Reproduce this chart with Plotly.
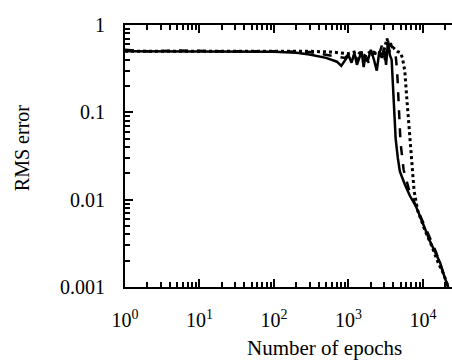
import plotly.graph_objects as go

# Solid curve
solid_x = [1, 2, 5, 10, 20, 50, 100, 200, 300, 500, 700, 800, 900, 1000, 1100, 1200, 1300,
           1400, 1500, 1600, 1700, 1800, 2000, 2200, 2400, 2600, 2800, 3000, 3200, 3400, 3600,
           3800, 3900, 4000, 4150, 4300, 4600, 4900, 5700, 6700, 8000, 9100, 10500, 12300,
           14500, 17000, 19500, 21800]
solid_y = [0.5, 0.5, 0.5, 0.5, 0.5, 0.5, 0.495, 0.48, 0.46, 0.42, 0.38, 0.34, 0.40, 0.45, 0.37,
           0.48, 0.35, 0.42, 0.50, 0.33, 0.45, 0.38, 0.52, 0.40, 0.30, 0.50, 0.42, 0.55, 0.35,
           0.66, 0.45, 0.40, 0.25, 0.14, 0.08, 0.05, 0.03, 0.021, 0.015, 0.011, 0.0085, 0.0066,
           0.0048, 0.0034, 0.0025, 0.0019, 0.0013, 0.001]

# Dashed curve
dashed_x = [1, 2, 5, 10, 20, 50, 100, 300, 600, 900, 1100, 1300, 1600, 1900, 2200, 2500, 2800,
            3100, 3400, 3700, 4000, 4300, 4500, 4700, 5000, 5500, 6500, 8000, 10000, 12500,
            15000, 18000, 21800]
dashed_y = [0.52, 0.5, 0.51, 0.5, 0.5, 0.5, 0.5, 0.49, 0.45, 0.42, 0.50, 0.40, 0.48, 0.36,
            0.50, 0.42, 0.58, 0.40, 0.50, 0.62, 0.50, 0.45, 0.30, 0.12, 0.045, 0.022, 0.013,
            0.0085, 0.0056, 0.0036, 0.0025, 0.0016, 0.001]

# Dotted curve
dotted_x = [1, 2, 5, 10, 20, 50, 100, 300, 600, 1000, 1300, 1600, 2000, 2500, 3000, 3300, 3500,
            4000, 4500, 5000, 5300, 5700, 6100, 6700, 7600, 8500, 10700, 13000, 16000, 19000,
            21800]
dotted_y = [0.5, 0.5, 0.5, 0.5, 0.5, 0.5, 0.5, 0.5, 0.49, 0.47, 0.50, 0.44, 0.50, 0.46, 0.52,
            0.70, 0.50, 0.55, 0.50, 0.48, 0.42, 0.30, 0.137, 0.048, 0.0127, 0.0075, 0.0044,
            0.003, 0.0019, 0.0014, 0.001]

x_tick_vals = [1, 10, 100, 1000, 10000]
x_tick_text = ["10<sup>0</sup>", "10<sup>1</sup>", "10<sup>2</sup>", "10<sup>3</sup>", "10<sup>4</sup>"]
y_tick_vals = [0.001, 0.01, 0.1, 1]
y_tick_text = ["0.001", "0.01", "0.1", "1"]

x_minor = [m * 10 ** d for d in range(0, 5) for m in range(2, 10)]
y_minor = [m * 10 ** d for d in range(-3, 0) for m in range(2, 10)]

FONT = "Liberation Serif"
X_RANGE = [0, 4.39]

fig = go.Figure()
fig.add_trace(go.Scatter(x=solid_x, y=solid_y, mode="lines",
                         line=dict(color="black", width=2.5)))
fig.add_trace(go.Scatter(x=dashed_x, y=dashed_y, mode="lines",
                         line=dict(color="black", width=2.5, dash="dash")))
fig.add_trace(go.Scatter(x=dotted_x, y=dotted_y, mode="lines",
                         line=dict(color="black", width=3, dash="dot")))
# invisible trace to carry the top (mirrored) axis
fig.add_trace(go.Scatter(x=[1, 10], y=[0.5, 0.5], mode="lines", xaxis="x2",
                         line=dict(color="rgba(0,0,0,0)", width=0), hoverinfo="skip"))

fig.update_layout(
    width=452, height=362,
    margin=dict(l=125, r=0, t=25, b=75),
    paper_bgcolor="white", plot_bgcolor="white",
    showlegend=False,
    font=dict(family=FONT, size=20, color="black"),
    xaxis=dict(
        type="log", range=X_RANGE,
        tickvals=x_tick_vals, ticktext=x_tick_text,
        ticks="inside", ticklen=8, tickwidth=2, tickcolor="black",
        showline=True, linewidth=2, linecolor="black", mirror=False,
        showgrid=False, zeroline=False,
        ticklabelstandoff=14,
        minor=dict(tickvals=x_minor, ticks="inside", ticklen=5, tickwidth=1.5,
                   tickcolor="black", showgrid=False),
    ),
    xaxis2=dict(
        type="log", range=X_RANGE, overlaying="x", side="top",
        tickvals=x_tick_vals, showticklabels=False,
        ticks="inside", ticklen=8, tickwidth=2, tickcolor="black",
        showline=True, linewidth=2, linecolor="black",
        showgrid=False, zeroline=False,
        minor=dict(tickvals=x_minor, ticks="inside", ticklen=5, tickwidth=1.5,
                   tickcolor="black", showgrid=False),
    ),
    yaxis=dict(
        type="log", range=[-3, 0],
        tickvals=y_tick_vals, ticktext=y_tick_text,
        ticks="inside", ticklen=8, tickwidth=2, tickcolor="black",
        showline=True, linewidth=2, linecolor="black", mirror=False,
        showgrid=False, zeroline=False,
        ticklabelstandoff=14,
        minor=dict(tickvals=y_minor, ticks="inside", ticklen=5, tickwidth=1.5,
                   tickcolor="black", showgrid=False),
    ),
)

fig.add_annotation(text="Number of epochs", xref="paper", yref="paper",
                   x=0.609, y=-0.232, xanchor="center", yanchor="middle",
                   showarrow=False, font=dict(family=FONT, size=21, color="black"))
fig.add_annotation(text="RMS error", xref="paper", yref="paper",
                   x=-0.315, y=0.53, xanchor="center", yanchor="middle", textangle=-90,
                   showarrow=False, font=dict(family=FONT, size=20, color="black"))

fig.write_html("out.html")
